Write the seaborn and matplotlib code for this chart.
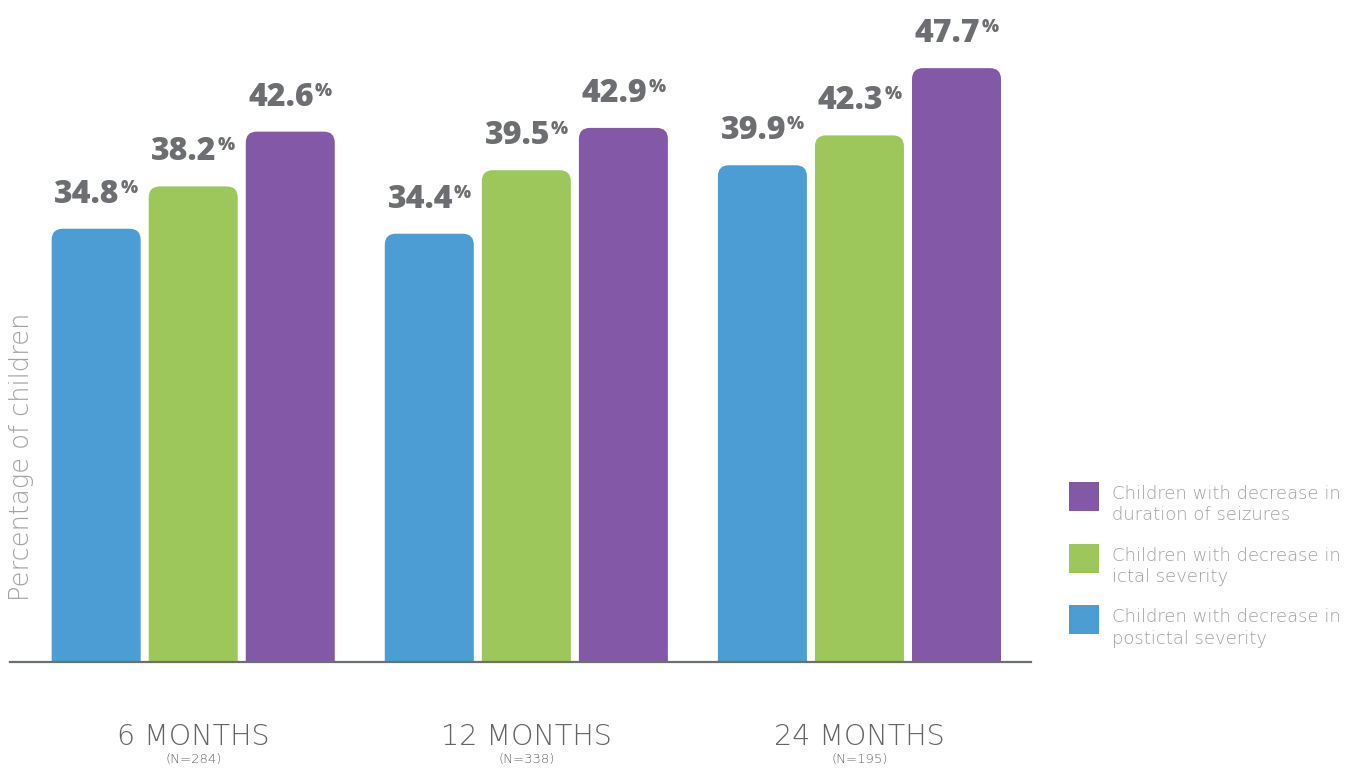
import numpy as np
import pandas as pd
import seaborn as sns
import matplotlib.pyplot as plt
from matplotlib.patches import FancyBboxPatch, Rectangle

# ---- data -------------------------------------------------------------
periods = ["6 MONTHS", "12 MONTHS", "24 MONTHS"]
sample_sizes = ["(N=284)", "(N=338)", "(N=195)"]
series = [
    "Children with decrease in\npostictal severity",
    "Children with decrease in\nictal severity",
    "Children with decrease in\nduration of seizures",
]
postictal = [34.8, 34.4, 39.9]
ictal = [38.2, 39.5, 42.3]
duration = [42.6, 42.9, 47.7]
colors = ["#4b9dd4", "#9dc75b", "#8359a7"]

df = pd.DataFrame({
    "period": periods * 3,
    "series": np.repeat(series, len(periods)),
    "value": postictal + ictal + duration,
})

# ---- styling ----------------------------------------------------------
sns.set_theme(style="white")
plt.rcParams["font.family"] = ["Open Sans", "DejaVu Sans"]
label_gray = "#6d6e71"
axis_text = "#636467"
light_gray = "#9fa1a4"
thin = dict(family=["DejaVu Sans"], fontweight=200)
heavy = dict(family=["Open Sans", "DejaVu Sans"], fontweight=800)

W, H = 1356, 770
fig = plt.figure(figsize=(W / 100, H / 100), dpi=100)
ax = fig.add_axes([10 / W, 108 / H, 1021 / W, 652 / H])

sns.barplot(data=df, x="period", y="value", hue="series",
            order=periods, hue_order=series, palette=colors,
            width=0.874, gap=0.083, saturation=1, errorbar=None,
            legend=False, ax=ax)

ax.set_xlim(-0.55, 2.515)
ax.set_ylim(0, 652 / 12.45)
ax.set_xlabel("")
ax.set_ylabel("")
ax.set_xticks([])
ax.set_yticks([])
for side in ["top", "right", "left"]:
    ax.spines[side].set_visible(False)
ax.spines["bottom"].set_color(label_gray)
ax.spines["bottom"].set_linewidth(1.6)
ax.spines["bottom"].set_zorder(5)

# ---- rounded bar tops -------------------------------------------------
x_per_px = (ax.get_xlim()[1] - ax.get_xlim()[0]) / 1021
y_per_px = (ax.get_ylim()[1] - ax.get_ylim()[0]) / 652
radius_px = 11
r_x = radius_px * x_per_px
r_y = radius_px * y_per_px

bars = [p for p in ax.patches if p.get_height() > 0]
for bar in bars:
    x0, w, h = bar.get_x(), bar.get_width(), bar.get_height()
    fc = bar.get_facecolor()
    bar.set_visible(False)
    rounded = FancyBboxPatch((x0, -2 * r_y), w, h + 2 * r_y,
                             boxstyle=f"round,pad=0,rounding_size={r_x}",
                             mutation_aspect=r_y / r_x,
                             facecolor=fc, edgecolor="none", zorder=3)
    ax.add_patch(rounded)

    # value label: bold number plus a small raised percent sign
    cx = x0 + w / 2
    num = ax.annotate(f"{h:.1f}", (cx, h), xytext=(0, 26),
                      textcoords="offset pixels", ha="left", va="baseline",
                      fontsize=23, color=label_gray,
                      annotation_clip=False, **heavy)
    pct = ax.annotate("%", (cx, h), xytext=(0, 36),
                      textcoords="offset pixels", ha="left", va="baseline",
                      fontsize=13, color=label_gray,
                      annotation_clip=False, **heavy)
    bar._labels = (num, pct)

fig.canvas.draw()
renderer = fig.canvas.get_renderer()
for bar in bars:
    num, pct = bar._labels
    w1 = num.get_window_extent(renderer).width
    w2 = pct.get_window_extent(renderer).width
    total = w1 + 1 + w2
    num.xyann = (-total / 2, 26)
    pct.xyann = (-total / 2 + w1 + 1, 36)

# ---- category labels --------------------------------------------------
for i, (p, n) in enumerate(zip(periods, sample_sizes)):
    ax.annotate(p, (i, 0), xytext=(0, -83), textcoords="offset pixels",
                ha="center", va="baseline", fontsize=20.5,
                color=axis_text, annotation_clip=False, **thin)
    ax.annotate(n, (i, 0), xytext=(0, -101), textcoords="offset pixels",
                ha="center", va="baseline", fontsize=9.5,
                color=axis_text, annotation_clip=False, **thin)

fig.text(22 / W, 1 - 457 / H, "Percentage of children", rotation=90,
         ha="center", va="center", fontsize=18.5,
         color=light_gray, **thin)

# ---- legend -----------------------------------------------------------
legend_tops = [482, 544, 605]
for name, col, top in zip(series[::-1], colors[::-1], legend_tops):
    fig.patches.append(Rectangle((1069 / W, 1 - (top + 29) / H), 30 / W, 29 / H,
                                 transform=fig.transFigure, facecolor=col,
                                 edgecolor="none"))
    fig.text(1112 / W, 1 - (top + 3) / H, name, ha="left", va="top",
             fontsize=13, color=light_gray, linespacing=1.25, **thin)

fig.savefig("out.png", dpi=100)
